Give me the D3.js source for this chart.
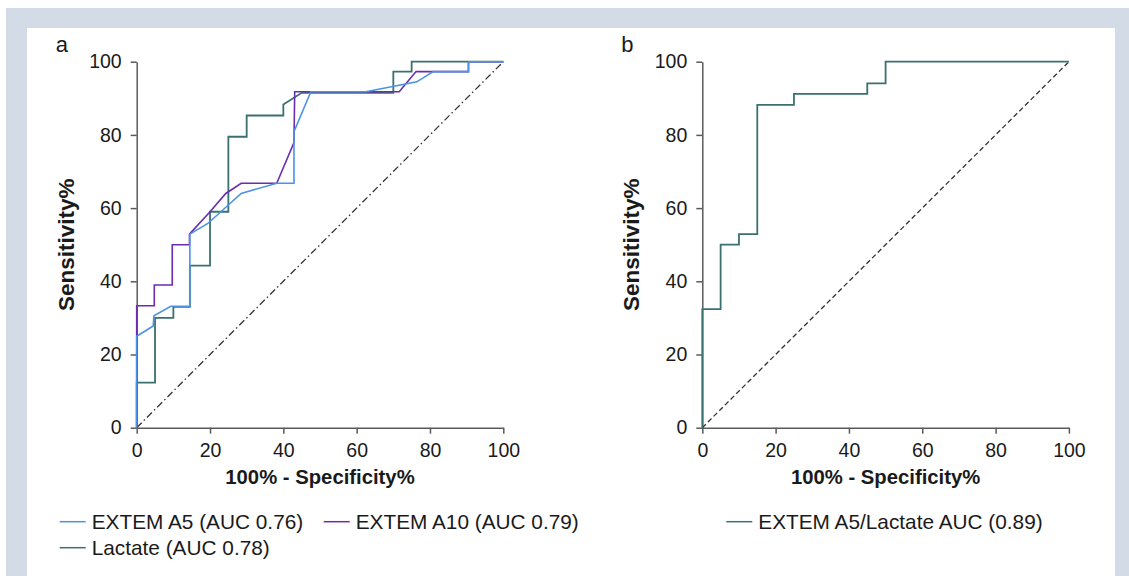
<!DOCTYPE html>
<html>
<head>
<meta charset="utf-8">
<script src="https://cdn.jsdelivr.net/npm/d3@7"></script>
<style>
  body { margin: 0; background: #fff; }
  svg { display: block; font-family: "Liberation Sans", Arial, sans-serif; }
  .ejes path, .ejes line { stroke: #5a5a5a; stroke-width: 1.5; }
  .ejes text { font-size: 19.5px; fill: #1a1a1a; }
  .titulo { font-size: 20.3px; font-weight: bold; fill: #1a1a1a; }
  .tituloY { font-size: 22.5px; font-weight: bold; fill: #1a1a1a; }
  .leyenda { font-size: 20.8px; fill: #1a1a1a; }
</style>
</head>
<body>
<div id="graf"></div>
<script>
// tick values shared by both panels
const ticks = [0, 20, 40, 60, 80, 100]

// panel a: [100% - specificity, sensitivity]
const extemA5 = [[0, 0], [0, 25], [4.5, 27.8], [4.7, 30.6], [9.3, 33.2], [14.5, 33.2], [14.5, 52.9],
  [19.4, 55.8], [28.5, 64], [38.2, 66.8], [42.9, 66.8], [42.9, 80.9], [47.5, 91.8], [62.5, 91.8],
  [76.4, 94.5], [80.9, 97.3], [90.5, 97.3], [90.5, 100], [100, 100]]
const extemA10 = [[0, 0], [0, 33.3], [4.8, 33.3], [4.8, 39], [9.7, 39], [9.7, 50], [14.4, 50], [14.4, 52.9],
  [20, 59], [24.3, 64], [28.5, 66.8], [38.2, 66.8], [42.9, 77.9], [43.1, 91.8], [71.6, 91.8],
  [76.2, 97.3], [90.5, 97.3], [90.5, 100], [100, 100]]
const lactate = [[0, 0], [0, 12.3], [5, 12.3], [5, 30], [10, 30], [10, 33], [14.5, 33], [14.5, 44.3],
  [20, 44.3], [20, 59], [25, 59], [25, 79.5], [30, 79.5], [30, 85.3], [40, 85.3], [40, 88.3],
  [45, 91.5], [70, 91.5], [70, 97.3], [75, 97.3], [75, 100], [100, 100]]

// panel b
const combinado = [[0, 0], [0, 32.4], [5, 32.4], [5, 50], [10, 50], [10, 52.9], [15, 52.9], [15, 88.2],
  [25, 88.2], [25, 91.2], [45, 91.2], [45, 94.1], [50, 94.1], [50, 100], [100, 100]]

const leyendaA = ["EXTEM A5 (AUC 0.76)", "EXTEM A10 (AUC 0.79)", "Lactate (AUC 0.78)"]
const leyendaB = ["EXTEM A5/Lactate AUC (0.89)"]

const colores = { a5: "#4a93e6", a10: "#6a2db0", lac: "#3a716e" }

const anchoTotal = 1129
const altoTotal = 576

const svg = d3.select("#graf")
  .append("svg")
  .attr("width", anchoTotal)
  .attr("height", altoTotal)

// marco gris y panel blanco
svg.append("rect").attr("x", 6).attr("y", 8).attr("width", anchoTotal - 6).attr("height", altoTotal - 8).attr("fill", "#d3dbe6")
svg.append("rect").attr("x", 27).attr("y", 28).attr("width", 1115 - 27).attr("height", altoTotal - 28).attr("fill", "#fff")

const alto = 366
const ancho = 366.6

const panel = (left, top, letra, series, diag, leyenda) => {
  const g = svg.append("g").attr("transform", `translate(${left}, ${top})`)
  const x = d3.scaleLinear().domain([0, 100]).range([0, ancho])
  const y = d3.scaleLinear().domain([0, 100]).range([alto, 0])

  g.append("g")
    .attr("class", "ejes")
    .attr("transform", `translate(0, ${alto})`)
    .call(d3.axisBottom(x).tickValues(ticks).tickSize(6).tickSizeOuter(0).tickPadding(9))
  g.append("g")
    .attr("class", "ejes")
    .call(d3.axisLeft(y).tickValues(ticks).tickSize(6).tickSizeOuter(0).tickPadding(9))

  g.append("line")
    .attr("x1", x(0)).attr("y1", y(0))
    .attr("x2", x(100)).attr("y2", y(100))
    .attr("stroke", "#333")
    .attr("stroke-width", 1.3)
    .attr("stroke-dasharray", diag)

  const line = d3.line().x((d) => x(d[0])).y((d) => y(d[1]))
  series.forEach((s) => {
    g.append("path")
      .datum(s.data)
      .attr("fill", "none")
      .attr("stroke", s.color)
      .attr("stroke-width", s.w)
      .attr("d", line)
  })

  g.append("text")
    .attr("x", -81)
    .attr("y", -10)
    .attr("font-size", 22)
    .attr("fill", "#1a1a1a")
    .text(letra)

  g.append("text")
    .attr("class", "titulo")
    .attr("x", ancho / 2)
    .attr("y", alto + 56)
    .attr("text-anchor", "middle")
    .text("100% - Specificity%")

  g.append("text")
    .attr("class", "tituloY")
    .attr("transform", `translate(-63, ${alto / 2}) rotate(-90)`)
    .attr("text-anchor", "middle")
    .text("Sensitivity%")

  leyenda.forEach((l) => {
    g.append("line")
      .attr("x1", l.x).attr("x2", l.x + 26)
      .attr("y1", l.y).attr("y2", l.y)
      .attr("stroke", l.color).attr("stroke-width", 1.5)
    g.append("text")
      .attr("class", "leyenda")
      .attr("x", l.x + 32)
      .attr("y", l.y + 7)
      .text(l.text)
  })
}

panel(136.7, 61.7, "a",
  [
    { data: lactate, color: colores.lac, w: 1.8 },
    { data: extemA10, color: colores.a10, w: 1.6 },
    { data: extemA5, color: colores.a5, w: 1.6 }
  ],
  "7,3,1.5,3",
  [
    { x: -77, y: 460, color: colores.a5, text: leyendaA[0] },
    { x: 187, y: 460, color: colores.a10, text: leyendaA[1] },
    { x: -77, y: 486, color: colores.lac, text: leyendaA[2] }
  ])

panel(702.3, 61.7, "b",
  [{ data: combinado, color: colores.lac, w: 1.8 }],
  "5,3",
  [{ x: 24, y: 460, color: colores.lac, text: leyendaB[0] }])
</script>
</body>
</html>
